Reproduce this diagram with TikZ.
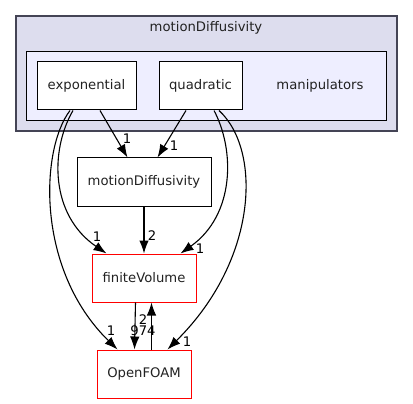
\documentclass[tikz,border=0pt]{standalone}
\usepackage{fontspec}
\setmainfont{DejaVu Sans}
\usetikzlibrary{arrows.meta,calc}
\definecolor{outerfill}{HTML}{DDDDEE}
\definecolor{outerdraw}{HTML}{444455}
\definecolor{innerfill}{HTML}{EEEEFF}
\definecolor{textgray}{HTML}{222222}
\begin{document}
\begin{tikzpicture}[x=1pt,y=-1pt,
  every node/.style={font=\fontsize{13.2}{15}\selectfont, text=textgray},
  dirbox/.style={draw=black, fill=white, line width=1pt, minimum height=48pt, inner sep=0pt},
  redbox/.style={draw=red, fill=white, line width=1pt, minimum height=48pt, inner sep=0pt},
  dep/.style={-{Latex[length=13pt,width=9.5pt]}, line width=1.1pt, black},
  lab/.style={font=\fontsize{13.2}{15}\selectfont, text=black, inner sep=0pt}]
\useasboundingbox (0,0) rectangle (413,404);
% clusters
\draw[fill=outerfill, draw=outerdraw, line width=1.3pt] (16,16) rectangle (397,131);
\node (ctitle) at (206,28) {motionDiffusivity};
\draw[fill=innerfill, draw=black, line width=1pt] (26,52) rectangle (386,121);
\node (manip) at (320,86) {manipulators};
% nodes
\node[dirbox, minimum width=99pt] (e) at (86.5,86) {exponential};
\node[dirbox, minimum width=83pt] (q) at (200.5,86) {quadratic};
\node[dirbox, minimum width=134pt] (md) at (144,182) {motionDiffusivity};
\node[redbox, minimum width=104pt] (fv) at (144,278) {finiteVolume};
\node[redbox, minimum width=94pt] (of) at (144,374) {OpenFOAM};
% edges
\draw[dep] ($(e.south west)+(63.5,0)$) -- ($(md.north west)+(51,0)$);
\node[lab] (l1) at (127,139) {1};
\draw[dep] ($(q.south west)+(27.5,0)$) -- ($(md.north west)+(81,0)$);
\node[lab] (l2) at (174,146) {1};
\draw[dep] ($(e.south west)+(36.5,0)$) .. controls (50,150) and (50,215) .. ($(fv.north west)+(15,0)$);
\node[lab] (l3) at (97,237) {1};
\draw[dep] ($(e.south west)+(33.5,0)$) .. controls (40,150) and (36,270) .. ($(of.north west)+(21,0)$);
\node[lab] (l4) at (111,331) {1};
\draw[dep] ($(q.south west)+(55.5,0)$) .. controls (235,150) and (235,215) .. ($(fv.north west)+(89,0)$);
\node[lab] (l5) at (200,249) {1};
\draw[dep] ($(q.south west)+(60.5,0)$) .. controls (262,150) and (258,260) .. ($(of.north west)+(71,0)$);
\node[lab] (l6) at (187,342) {1};
\draw[dep] (md.south) -- (fv.north);
\node[lab] (l7) at (152,236) {2};
\draw[dep] ($(fv.south west)+(44,0)$) -- ($(of.north west)+(38,0)$);
\node[lab] (l8) at (143,331) {974};
\draw[dep] ($(of.north west)+(55,0)$) -- ($(fv.south west)+(60,0)$);
\node[lab] (l9) at (143,320) {2};
\end{tikzpicture}
\end{document}
